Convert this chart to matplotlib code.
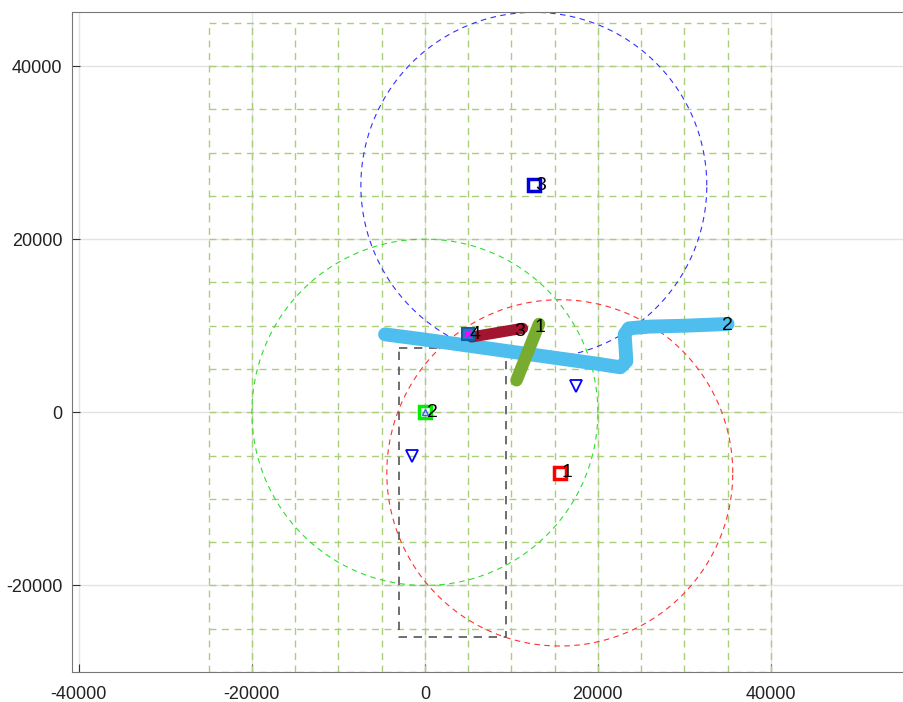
import matplotlib
matplotlib.use('Agg')
import matplotlib.pyplot as plt
import numpy as np

matplotlib.rcParams['font.family'] = ['Liberation Sans', 'DejaVu Sans']
matplotlib.rcParams['axes.unicode_minus'] = False

# anchor stations: centres, coverage radius, labels, colours
st_x = [15600, 0, 12600, 5000]
st_y = [-7000, 0, 26200, 9000]
st_r = [20000, 20000, 20000]
st_lab = ['1', '2', '3', '4']
st_col = ['#ff0000', '#00ee00', '#0000dd', '#1f77d0']

# detected targets
tgt_x = [17500, -1500]
tgt_y = [3000, -5000]

# tracks
trk2_x = [-4600, 0, 5000, 10000, 15000, 20000, 22600, 23300, 23200, 23100, 23600, 26000, 30000, 35000]
trk2_y = [9000, 8400, 7700, 7000, 6300, 5600, 5200, 5900, 7500, 9000, 9700, 9900, 10000, 10200]
trk1_x = [10600, 13200]
trk1_y = [3700, 10200]
trk3_x = [5400, 11300]
trk3_y = [8700, 9700]

# search box
box_x = [-3000, 9400, 9400, -3000, -3000]
box_y = [7400, 7400, -26000, -26000, 7400]

fig = plt.figure(figsize=(9.04, 7.02), dpi=100)
ax = fig.add_axes([72/904, 30/702, 832/904, 660/702])

# cell grid
grid_x = np.arange(-25000, 40001, 5000)
grid_y = np.arange(-30000, 45001, 5000)
gcol = '#a9cf7a'
for gx in grid_x:
    ax.plot([gx, gx], [grid_y[0], grid_y[-1]], ls=(0, (5, 4)), color=gcol, lw=1, zorder=1)
for gy in grid_y:
    ax.plot([grid_x[0], grid_x[-1]], [gy, gy], ls=(0, (5, 4)), color=gcol, lw=1, zorder=1)

ax.plot(box_x, box_y, ls=(0, (5, 4)), color='#555555', lw=1.2, zorder=2)

# coverage circles
t = np.linspace(0, 2*np.pi, 400)
circ_col = ['#ff3030', '#30dd30', '#3030ff']
for i, (cx, cy) in enumerate([(st_x[0], st_y[0]), (st_x[1], st_y[1]), (st_x[2], st_y[2])]):
    ax.plot(cx + st_r[i]*np.cos(t), cy + st_r[i]*np.sin(t), ls=(0, (5, 4)),
            color=circ_col[i], lw=0.8, zorder=2)

ax.plot(trk2_x, trk2_y, color='#4dbeee', lw=10, solid_capstyle='round',
        solid_joinstyle='round', zorder=3)
ax.plot(trk1_x, trk1_y, color='#77ac30', lw=9, solid_capstyle='round', zorder=4)
ax.plot(trk3_x, trk3_y, color='#a2142f', lw=8, solid_capstyle='round', zorder=4)
ax.text(35000, 10000, '2', fontsize=14, va='center', ha='center', zorder=6)
ax.text(13300, 9800, '1', fontsize=14, va='center', ha='center', zorder=6)
ax.text(11000, 9300, '3', fontsize=14, va='center', ha='center', zorder=6)

# stations
for i in range(4):
    if i == 3:
        ax.plot(st_x[i], st_y[i], 's', ms=9, mfc='#1f77d0', mec='#1060a0', mew=1.5, zorder=5)
        ax.plot(st_x[i], st_y[i], 'x', ms=4, color='#ff00ff', mew=1.5, zorder=6)
    else:
        ax.plot(st_x[i], st_y[i], 's', ms=9, mfc='none', mec=st_col[i], mew=2.5, zorder=5)
    ax.text(st_x[i] + 200, st_y[i], st_lab[i], fontsize=14, va='center', ha='left', zorder=6)
ax.plot(st_x[1], st_y[1], '^', ms=4, mfc='none', mec='#3060ff', mew=1, zorder=6)

ax.plot(tgt_x, tgt_y, 'v', ms=8, mfc='none', mec='#0000ff', mew=1.3, zorder=5)

ax.set_xlim(-40800, 55400)
ax.set_ylim(-30000, 46240)
ax.set_xticks([-40000, -20000, 0, 20000, 40000])
ax.set_yticks([-20000, 0, 20000, 40000])
ax.tick_params(direction='in', length=6, labelsize=13,
               colors='#333333', labelcolor='#222222')
ax.tick_params(axis='x', pad=10)
ax.tick_params(axis='y', pad=7)
ax.grid(True, color='#e3e3e3', lw=1, zorder=0)
ax.set_axisbelow(True)
for s in ['left', 'bottom', 'top']:
    ax.spines[s].set_color('#777777')
ax.spines['right'].set_visible(False)

fig.savefig('out.png', dpi=100)
